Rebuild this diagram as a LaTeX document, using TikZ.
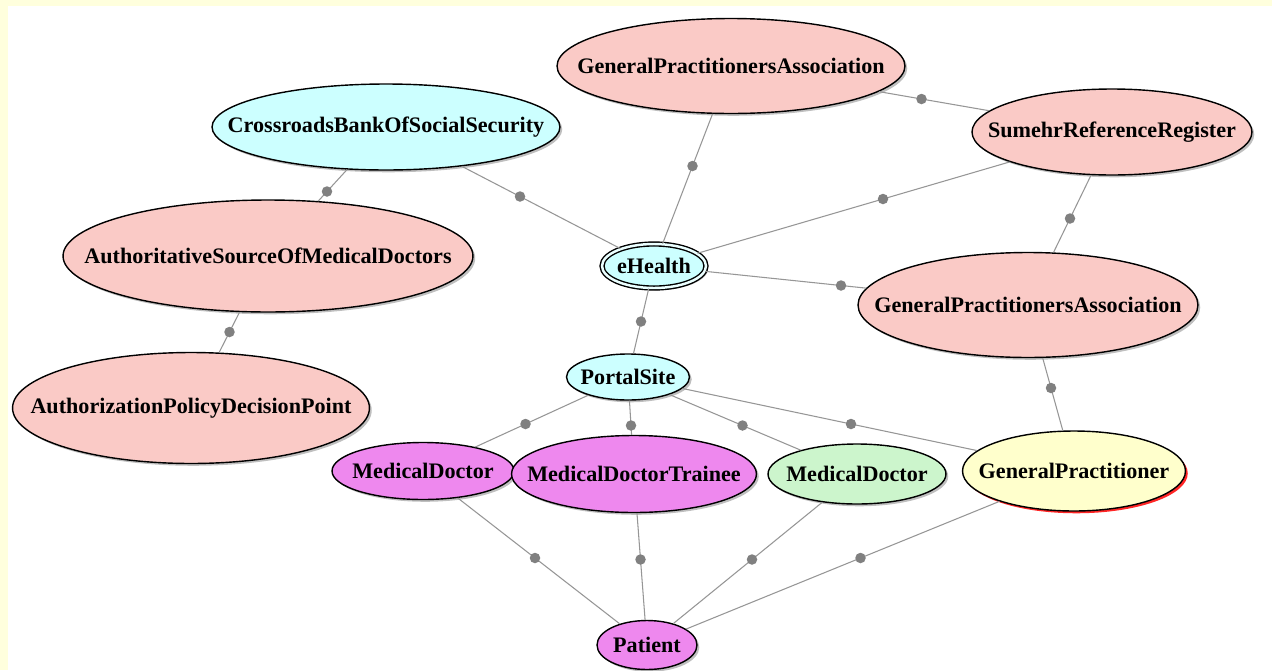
\documentclass[tikz,border=0pt]{standalone}
\usepackage{fontspec}
\setmainfont{Liberation Serif}
\usetikzlibrary{shapes.geometric,shadows,calc}

\definecolor{bgyellow}{RGB}{255,255,221}
\definecolor{orgpink}{RGB}{250,202,198}
\definecolor{servicecyan}{RGB}{204,255,255}
\definecolor{rolemagenta}{RGB}{238,136,238}
\definecolor{doctorgreen}{RGB}{204,245,204}
\definecolor{gpyellow}{RGB}{255,255,204}
\definecolor{linkgray}{RGB}{150,150,150}
\definecolor{dotgray}{RGB}{128,128,128}

% label that takes no width, so the ellipse size is set by the style
\newcommand{\lbl}[1]{\makebox[0pt]{#1}}

\tikzset{
        conceptnode/.style={ellipse, inner sep=0pt, draw=black, line width=0.8pt,
            font=\fontsize{12.6}{14}\selectfont\bfseries},
        shadow_gray/.style={drop shadow={shadow xshift=1.3pt, shadow yshift=-1.3pt, fill=black!50, opacity=0.5}},
        shadow_red/.style={drop shadow={shadow xshift=1.3pt, shadow yshift=-1.3pt, fill=red!85, opacity=1}},
        % Organisations
        node_org/.style={conceptnode, shadow_gray, fill=orgpink},
        % Services
        node_service/.style={conceptnode, shadow_gray, fill=servicecyan},
        % Roles
        node_role/.style={conceptnode, shadow_gray, fill=rolemagenta},
        node_doctor/.style={conceptnode, shadow_gray, fill=doctorgreen},
        node_gp/.style={conceptnode, shadow_red, fill=gpyellow},
        % Connectors
        link/.style={draw=linkgray, line width=0.6pt},
        link_dot/.style={circle, fill=dotgray, inner sep=0pt, minimum size=0.21cm}
}

\begin{document}
\begin{tikzpicture}[x=0.02cm, y=-0.02cm]
    % background
    \useasboundingbox (0,0) rectangle (1272,670);
    \fill[white] (0,0) rectangle (1272,670);
    \fill[bgyellow] (0,0) rectangle (1272,6);
    \fill[bgyellow] (0,0) rectangle (8,670);

    \node[node_org, minimum width=6.96cm, minimum height=1.9cm] (gpa_top) at (731,66) {\lbl{GeneralPractitionersAssociation}};
    \node[node_service, minimum width=6.96cm, minimum height=1.72cm] (crossroads) at (386,127) {\lbl{CrossroadsBankOfSocialSecurity}};
    \node[node_org, minimum width=5.6cm, minimum height=1.72cm] (sumehr) at (1112,132) {\lbl{SumehrReferenceRegister}};
    \node[node_org, minimum width=8.2cm, minimum height=2.24cm] (auth_source) at (268,256) {\lbl{AuthoritativeSourceOfMedicalDoctors}};
    \node[node_service, double=servicecyan!40, double distance=1.4pt, minimum width=2.08cm, minimum height=0.88cm] (ehealth) at (654,266) {\lbl{eHealth}};
    \node[node_org, minimum width=6.8cm, minimum height=2.1cm] (gpa_right) at (1028,305) {\lbl{GeneralPractitionersAssociation}};
    \node[node_org, minimum width=7.14cm, minimum height=2.22cm] (auth_pdp) at (191,408) {\lbl{AuthorizationPolicyDecisionPoint}};
    \node[node_service, minimum width=2.46cm, minimum height=0.92cm] (portal) at (628,377) {\lbl{PortalSite}};
    \node[node_role, minimum width=3.64cm, minimum height=1.14cm] (md_left) at (423,471) {\lbl{MedicalDoctor}};
    \node[node_role, minimum width=4.9cm, minimum height=1.54cm] (md_trainee) at (634,474) {\lbl{MedicalDoctorTrainee}};
    \node[node_doctor, minimum width=3.56cm, minimum height=1.2cm] (md_right) at (857,474) {\lbl{MedicalDoctor}};
    \node[node_gp, minimum width=4.46cm, minimum height=1.6cm] (gp) at (1074,471) {\lbl{GeneralPractitioner}};
    \node[node_role, minimum width=2.0cm, minimum height=0.98cm] (patient) at (647,645) {\lbl{Patient}};

    % connectors, each with a dot half way between the centres
    \foreach \a/\b in {crossroads/ehealth, crossroads/auth_source, auth_source/auth_pdp,
                       gpa_top/ehealth, gpa_top/sumehr, sumehr/ehealth, sumehr/gpa_right,
                       ehealth/gpa_right, ehealth/portal, gpa_right/gp,
                       portal/md_left, portal/md_trainee, portal/md_right, portal/gp,
                       md_left/patient, md_trainee/patient, md_right/patient, gp/patient}{
        \draw[link] (\a) -- (\b);
        \node[link_dot] at ($(\a)!0.5!(\b)$) {};
    }
\end{tikzpicture}
\end{document}
